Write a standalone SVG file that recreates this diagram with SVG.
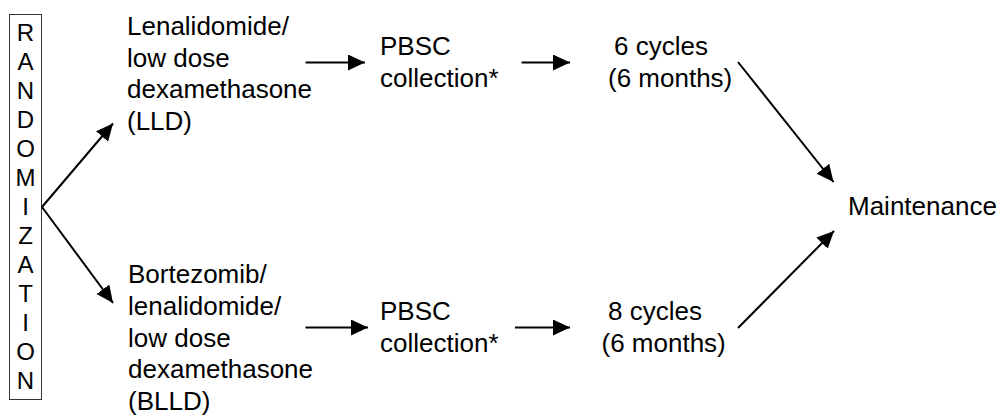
<svg xmlns="http://www.w3.org/2000/svg" width="1000" height="416" viewBox="0 0 1000 416">
<style>
text{font-family:"Liberation Sans",Arial,sans-serif;font-size:26px;fill:#000}
.v{font-size:24px;text-anchor:middle}
.c{stroke:#000;stroke-width:2;fill:none;marker-end:url(#ah)}
</style>
<defs>
<marker id="ah" markerUnits="userSpaceOnUse" markerWidth="18" markerHeight="18" refX="17" refY="8" orient="auto">
<path d="M0,0 L17,8 L0,16 z" fill="#000"/>
</marker>
</defs>
<rect width="1000" height="416" fill="#fff"/>
<g id="randomization">
<rect x="9.5" y="14.5" width="32" height="385" fill="none" stroke="#333" stroke-width="1"/>
<text class="v" x="25.5" y="40.5">R</text>
<text class="v" x="25.5" y="69.5">A</text>
<text class="v" x="25.5" y="98.5">N</text>
<text class="v" x="25.5" y="127.5">D</text>
<text class="v" x="25.5" y="156.5">O</text>
<text class="v" x="25.5" y="185.5">M</text>
<text class="v" x="25.5" y="214.5">I</text>
<text class="v" x="25.5" y="243.5">Z</text>
<text class="v" x="25.5" y="272.5">A</text>
<text class="v" x="25.5" y="301.5">T</text>
<text class="v" x="25.5" y="330.5">I</text>
<text class="v" x="25.5" y="359.5">O</text>
<text class="v" x="25.5" y="388.5">N</text>
</g>
<g id="lld">
<text x="127" y="35">Lenalidomide/</text>
<text x="127" y="66.5">low dose</text>
<text x="127" y="98">dexamethasone</text>
<text x="127" y="129.5">(LLD)</text>
</g>
<g id="blld">
<text x="128" y="283">Bortezomib/</text>
<text x="128" y="315">lenalidomide/</text>
<text x="128" y="346.5">low dose</text>
<text x="128" y="378">dexamethasone</text>
<text x="128" y="410">(BLLD)</text>
</g>
<g id="pbsc-top">
<text x="380" y="55">PBSC</text>
<text x="380" y="86.5">collection*</text>
</g>
<g id="pbsc-bottom">
<text x="380" y="320">PBSC</text>
<text x="380" y="351.5">collection*</text>
</g>
<g id="cycles-top">
<text x="614" y="55">6 cycles</text>
<text x="608" y="86.5">(6 months)</text>
</g>
<g id="cycles-bottom">
<text x="608" y="320">8 cycles</text>
<text x="601.5" y="351.5">(6 months)</text>
</g>
<g id="maintenance">
<text x="848" y="215">Maintenance</text>
</g>
<g id="connectors">
<line class="c" x1="42" y1="207" x2="113" y2="123.5"/>
<line class="c" x1="42" y1="207" x2="113" y2="303"/>
<line class="c" x1="305.5" y1="62.5" x2="365" y2="62.5"/>
<line class="c" x1="521.5" y1="62.5" x2="570" y2="62.5"/>
<line class="c" x1="305.5" y1="327.5" x2="368" y2="327.5"/>
<line class="c" x1="515" y1="327.5" x2="570" y2="327.5"/>
<line class="c" x1="738" y1="62" x2="833.5" y2="182"/>
<line class="c" x1="738" y1="328" x2="834" y2="231"/>
</g>
</svg>
